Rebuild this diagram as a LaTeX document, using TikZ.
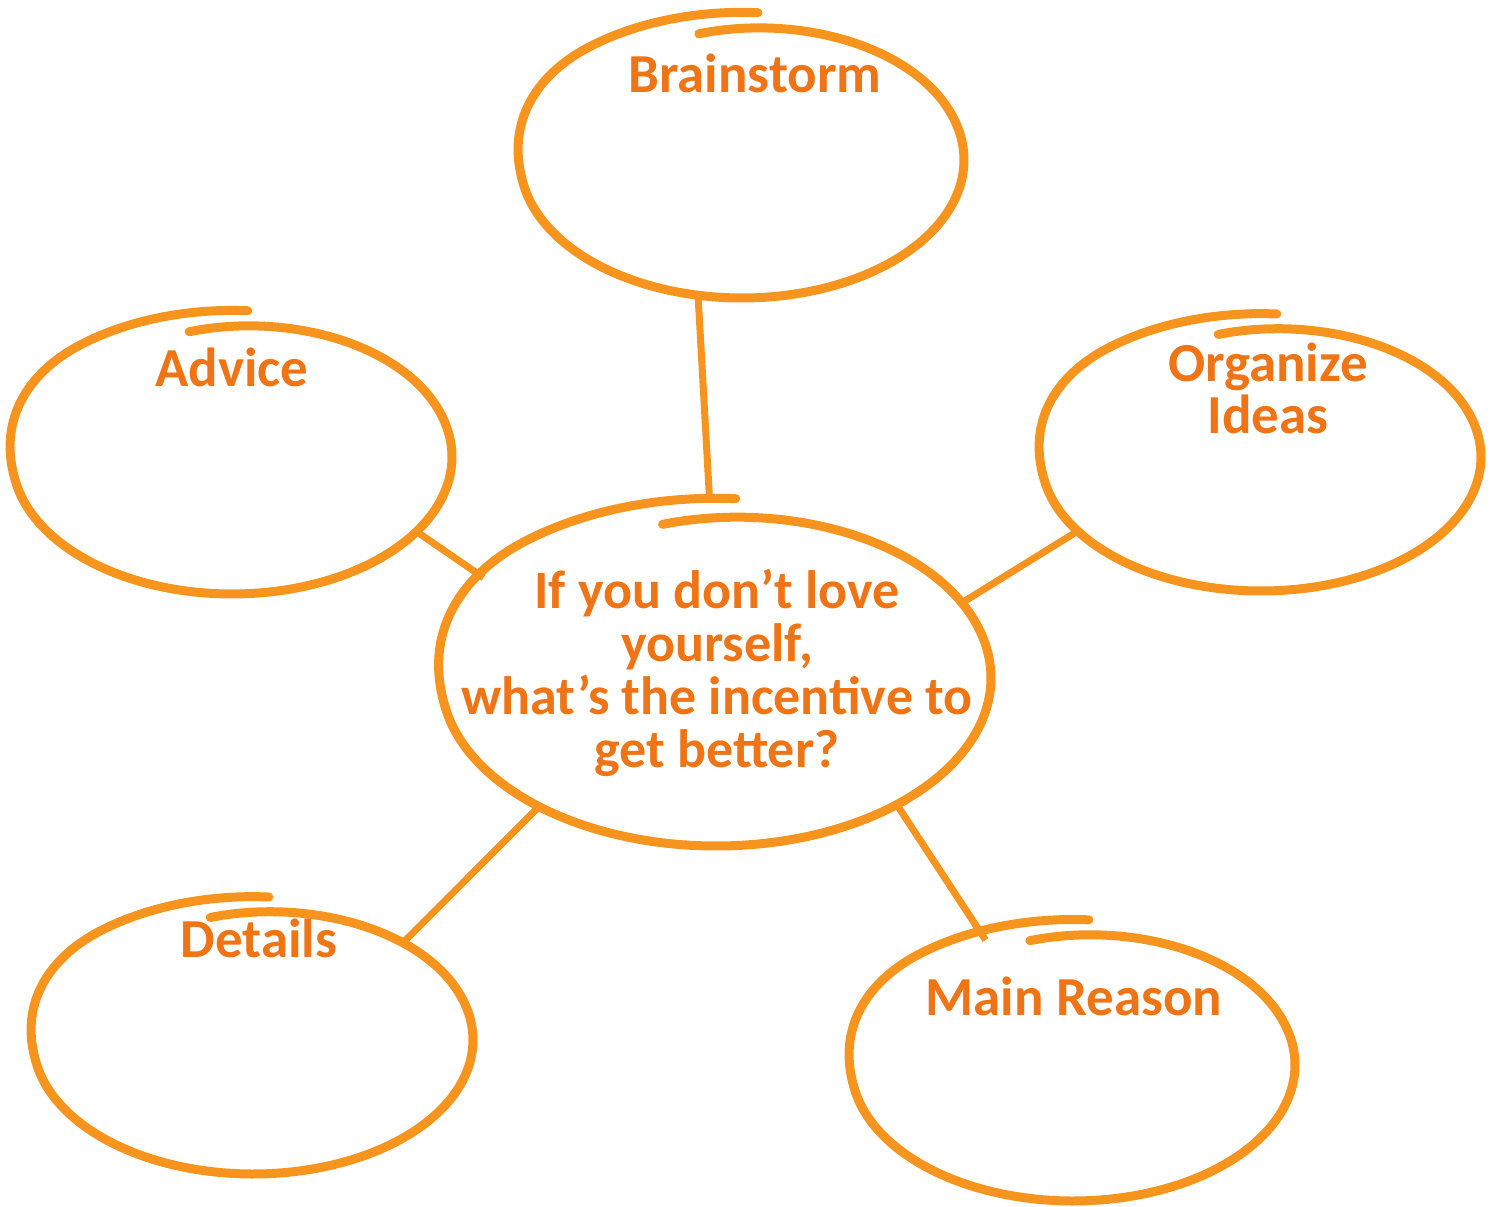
\documentclass[tikz,border=0pt]{standalone}
\usepackage{fontspec}
\setmainfont{Carlito}
\usetikzlibrary{shapes.geometric, positioning, calc}
\definecolor{ringorange}{RGB}{247,148,29}
\definecolor{inkorange}{RGB}{239,116,22}
\tikzset{
  bubble/.style={ellipse, inner sep=0pt, outer sep=0pt},
  ring/.style={ringorange, line width=4.5pt, line cap=round, line join=round},
  spoke/.style={ringorange, line width=3.5pt},
  title/.style={inkorange, font=\fontsize{27.5}{26}\selectfont\bfseries, inner sep=0pt, align=center},
  question/.style={inkorange, font=\fontsize{27}{26.5}\selectfont\bfseries, inner sep=0pt, align=center}
}
% loop drawn by hand round a bubble: node, half axes
\newcommand{\sketchring}[3]{
  \draw[ring, shift={(#1.center)}] plot[domain=0:1, samples=110, smooth, variable=\f]
    ({#2*ringr(\f)*cos(102-376*\f)}, {-#3*ringr(\f)*sin(102-376*\f)});
}

\begin{document}
\begin{tikzpicture}[x=0.5pt, y=-0.5pt,
  declare function={
    sk(\f)=min(1,max(0,(\f-0.72)/0.16));
    ringr(\f)=1-0.065*max(0,1-\f/0.2)*max(0,1-\f/0.2)+0.07*sk(\f)*sk(\f)*(3-2*sk(\f));
  }]
  \useasboundingbox (0,0) rectangle (1495,1206);

  % bubbles
  \node[bubble, minimum width=222pt, minimum height=138pt] (brain) at (742,160) {};
  \node[bubble, minimum width=220pt, minimum height=137pt] (advice) at (232,457) {};
  \node[bubble, minimum width=220pt, minimum height=134pt] (organize) at (1261,457) {};
  \node[bubble, minimum width=275pt, minimum height=168pt] (core) at (716,678) {};
  \node[bubble, minimum width=220pt, minimum height=134pt] (details) at (253,1040) {};
  \node[bubble, minimum width=222pt, minimum height=136pt] (reason) at (1073,1065) {};

  % spokes
  \draw[spoke, shorten >=8pt] (brain.252) -- (core.92);
  \draw[spoke, shorten >=4pt] (advice.338) -- (core.157);
  \draw[spoke] (organize.202) -- (core.17);
  \draw[spoke] (details.33) -- (core.216);
  \draw[spoke] (reason.125) -- (core.325);

  % outlines
  \sketchring{brain}{222}{138}
  \sketchring{advice}{220}{137}
  \sketchring{organize}{220}{134}
  \sketchring{core}{275}{168}
  \sketchring{details}{220}{134}
  \sketchring{reason}{222}{136}

  % texts
  \node[title, anchor=base] (brainT) at (755,92) {Brainstorm};
  \node[title, anchor=base] (adviceT) at (232,386) {Advice};
  \node[title] (organizeT) at (1268,388) {Organize\\Ideas};
  \node[title, anchor=base] (detailsT) at (259,957) {Details};
  \node[title, anchor=base] (reasonT) at (1074,1015) {Main Reason};
  \node[question] (coreT) at (717,673) {If you don’t love\\yourself,\\what’s the incentive to\\get better?};
\end{tikzpicture}
\end{document}
